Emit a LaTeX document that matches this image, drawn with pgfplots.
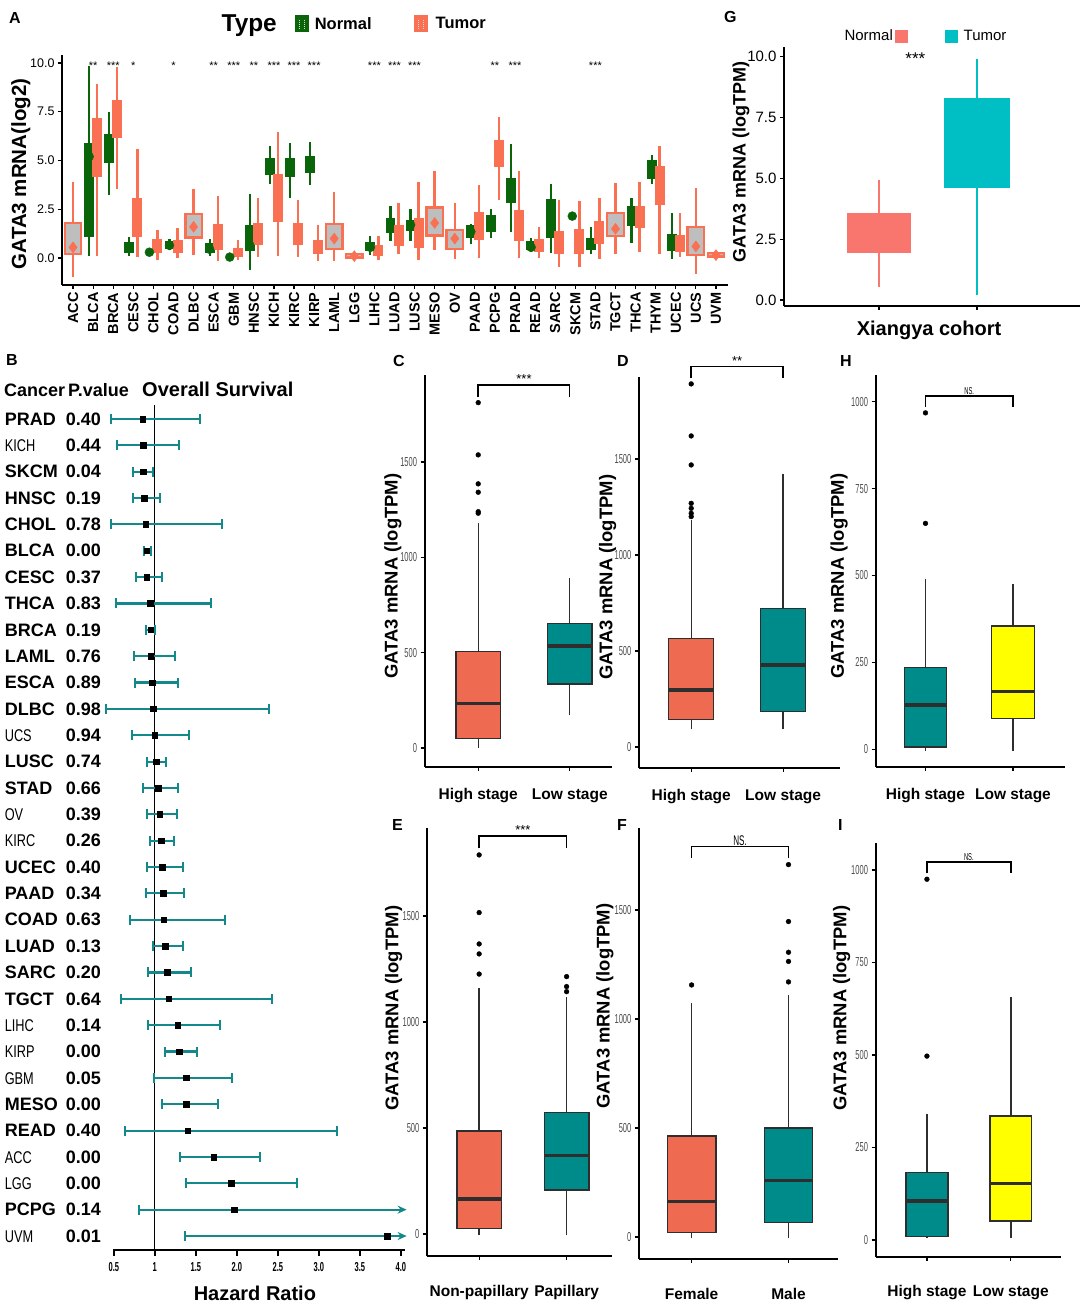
\documentclass[border=0pt]{standalone}
\usepackage{fontspec}
\setmainfont{Liberation Sans}
\newfontfamily\nar[FakeStretch=0.75]{Liberation Sans}
\newfontfamily\xnar[FakeStretch=0.58]{Liberation Sans}
\usepackage{pgfplots}
\usepackage{pgfplotstable}
\pgfplotsset{compat=1.18}
\usepgfplotslibrary{statistics}
\usetikzlibrary{arrows.meta}

\definecolor{ngreen}{HTML}{0A650A}
\definecolor{tsal}{HTML}{FA7052}
\definecolor{bgray}{HTML}{BEBEBE}
\definecolor{gnorm}{HTML}{F8766D}
\definecolor{gtum}{HTML}{00BFC4}
\definecolor{forest}{HTML}{13898B}
\definecolor{cor}{HTML}{EE6A50}
\definecolor{tea}{HTML}{008B8B}
\definecolor{yel}{HTML}{FFFF00}
\definecolor{edge}{HTML}{2E2E2E}

\newcommand{\fs}[1]{\fontsize{#1}{#1}\selectfont}
\newcommand{\rb}[2]{\makebox[61pt][l]{#1}\makebox[38pt][l]{#2}}
\newcommand{\rn}[2]{\makebox[61pt][l]{\mdseries\nar\fs{17}#1}\makebox[38pt][l]{#2}}

% one box from its five numbers (boxplot library, small values)
\newcommand{\bx}[7]{\addplot[#7, boxplot prepared={draw position=#1, lower whisker=#2,
  lower quartile=#3, median=#4, upper quartile=#5, upper whisker=#6}] coordinates {};}
% box drawn from plain plots: left, centre, right, lw, lq, med, uq, uw, fill
\newcommand{\gbx}[9]{%
  \addplot[edge, line width=1.4pt] coordinates {(#2,#4) (#2,#5)};
  \addplot[edge, line width=1.4pt] coordinates {(#2,#7) (#2,#8)};
  \addplot[fill=#9, draw=edge, line width=1.4pt] coordinates {(#1,#5) (#3,#5) (#3,#7) (#1,#7)} --cycle;
  \addplot[edge, line width=3.5pt] coordinates {(#1,#6) (#3,#6)};}
% significance bracket
\newcommand{\brk}[4]{\addplot[black, line width=1.5pt] coordinates {(1,#1) (1,#2) (2,#2) (2,#1)};
  \node[anchor=south, inner sep=1pt, font=#4] at (axis cs:1.5,#2) {#3};}
% confidence interval of one forest row: row, lower, upper
\newcommand{\ci}[3]{\addplot[forest, line width=2.2pt,
  arrows={Bar[width=10pt,line width=2pt]-Bar[width=10pt,line width=2pt]}] coordinates {(#2,#1) (#3,#1)};}

\pgfplotsset{
  gg/.style={scale only axis, clip=false, anchor=south west,
    axis x line*=bottom, axis y line*=left,
    axis line style={line width=2pt},
    tick align=outside, major tick length=4pt,
    tick style={black, line width=1.2pt},
    boxplot/draw direction=y,
    boxplot/whisker extend=0},
  sm/.style={gg, xtick={1,2}, xticklabel style={font=\bfseries\fs{15.5}},
    yticklabel style={font=\xnar\fs{13}, text=black!70},
    ylabel={GATA3 mRNA (logTPM)}, ylabel style={font=\bfseries\fs{18.4}, anchor=center}},
  outl/.style={only marks, mark=*, mark size=2.4pt, black},
  nbox/.style={draw=ngreen, fill=ngreen, line width=2.2pt, boxplot/box extend=0.38},
  tbox/.style={draw=tsal, fill=tsal, line width=2.4pt, boxplot/box extend=0.38},
  wbox/.style={draw=tsal, fill=bgray, line width=2.4pt, boxplot/box extend=0.82},
}

% hazard ratio of each forest row (1 = UVM at the bottom, 32 = PRAD at the top)
\pgfplotstableread{
row hr
32 0.85
31 0.86
30 0.86
29 0.87
28 0.89
27 0.90
26 0.90
25 0.94
24 0.95
23 0.95
22 0.97
21 0.98
20 1.00
19 1.02
18 1.04
17 1.06
16 1.08
15 1.09
14 1.10
13 1.11
12 1.13
11 1.15
10 1.17
9 1.28
8 1.30
7 1.38
6 1.38
5 1.40
4 1.72
3 1.93
2 1.97
1 3.83
}\fdata

\begin{document}
\begin{tikzpicture}[x=1pt,y=1pt]
\useasboundingbox (0,0) rectangle (1084,1306);

% panel letters and forest header
\begin{scope}[every node/.style={anchor=base west, inner sep=0pt, font=\bfseries\fs{16}}]
\node at (9,1282) {A};
\node at (724,1283) {G};
\node at (6,940) {B};
\node at (393,939) {C};
\node at (617,939) {D};
\node at (840,939) {H};
\node at (392,475) {E};
\node at (617,475) {F};
\node at (838,475) {I};
\node[font=\bfseries\fs{18}] at (4,909) {Cancer};
\node[font=\bfseries\fs{18}] at (68,909) {P.value};
\node[font=\bfseries\fs{20}] at (142,909) {Overall Survival};
\end{scope}

% ---------- A ----------
\begin{axis}[gg, at={(62pt,1021pt)}, width=666pt, height=230pt,
  xmin=-0.55, xmax=32.6, ymin=-1.38, ymax=10.41,
  axis line style={line width=2.5pt},
  xtick={0,...,32},
  xticklabels={ACC,BLCA,BRCA,CESC,CHOL,COAD,DLBC,ESCA,GBM,HNSC,KICH,KIRC,KIRP,LAML,LGG,LIHC,LUAD,LUSC,MESO,OV,PAAD,PCPG,PRAD,READ,SARC,SKCM,STAD,TGCT,THCA,THYM,UCEC,UCS,UVM},
  xticklabel style={rotate=90, anchor=east, font=\bfseries\fs{14.5}},
  ytick={0,2.5,5,7.5,10}, yticklabels={0.0,2.5,5.0,7.5,10.0},
  yticklabel style={font=\fs{12.5}},
  ylabel={GATA3 mRNA(log2)},
  ylabel style={font=\bfseries\fs{20.5}, at={(axis description cs:-0.0616,0.483)}, anchor=center},
  boxplot/every median/.style={draw=none},
  legend style={at={(0.438,1.135)}, anchor=center, draw=none, fill=none,
    legend columns=-1, font=\bfseries\fs{16.5}}]
\addlegendimage{empty legend}\addlegendentry{\fs{24.4}Type\hspace*{16pt}}
\addlegendimage{legend image code/.code={\draw[fill=ngreen,draw=ngreen,line width=1pt] (0pt,-8pt) rectangle (13pt,8pt);
  \draw[white!70!gray,densely dotted,line width=1pt] (4pt,-5pt)--(4pt,5pt) (9pt,-5pt)--(9pt,5pt);}}
\addlegendentry{\hspace*{4pt}Normal\hspace*{40pt}}
\addlegendimage{legend image code/.code={\draw[fill=tsal,draw=tsal,line width=1pt] (0pt,-8pt) rectangle (13pt,8pt);
  \draw[white!70!gray,densely dotted,line width=1pt] (4pt,-5pt)--(4pt,5pt) (9pt,-5pt)--(9pt,5pt);}}
\addlegendentry{\hspace*{6pt}Tumor}

\bx{0}{-0.95}{0.2}{0.55}{1.8}{3.9}{wbox}
\bx{0.8}{0.1}{1.15}{5.2}{5.85}{9.85}{nbox}
\bx{1.2}{0.1}{4.2}{5.9}{7.1}{8.9}{tbox}
\bx{1.8}{3.25}{4.95}{5.7}{6.3}{7.5}{nbox}
\bx{2.2}{3.55}{6.2}{7.2}{8.05}{9.8}{tbox}
\bx{2.8}{0.1}{0.3}{0.5}{0.75}{1.1}{nbox}
\bx{3.2}{0.05}{1.15}{2.1}{3.0}{5.6}{tbox}
\bx{4.2}{-0.1}{0.3}{0.6}{0.9}{1.45}{tbox}
\bx{4.8}{0.4}{0.5}{0.65}{0.8}{1.0}{nbox}
\bx{5.2}{0.0}{0.3}{0.55}{0.85}{1.55}{tbox}
\bx{6}{0.15}{1.05}{1.6}{2.25}{3.55}{wbox}
\bx{6.8}{0.1}{0.3}{0.45}{0.7}{1.0}{nbox}
\bx{7.2}{-0.15}{0.5}{1.1}{1.7}{3.2}{tbox}
\bx{8.2}{-0.1}{0.1}{0.3}{0.45}{0.95}{tbox}
\bx{8.8}{-0.6}{0.4}{0.65}{1.65}{3.3}{nbox}
\bx{9.2}{0.05}{0.75}{1.25}{1.75}{3.1}{tbox}
\bx{9.8}{3.8}{4.3}{4.7}{5.05}{5.75}{nbox}
\bx{10.2}{0.1}{1.9}{3.1}{4.25}{6.45}{tbox}
\bx{10.8}{3.1}{4.2}{4.6}{5.05}{5.9}{nbox}
\bx{11.2}{0.05}{0.75}{1.25}{1.75}{3.0}{tbox}
\bx{11.8}{3.75}{4.4}{4.8}{5.15}{5.95}{nbox}
\bx{12.2}{-0.15}{0.25}{0.55}{0.85}{1.7}{tbox}
\bx{13}{-0.15}{0.45}{1.0}{1.75}{3.4}{wbox}
\bx{14}{-0.02}{0.02}{0.1}{0.2}{0.25}{wbox}
\bx{14.8}{0.15}{0.4}{0.55}{0.75}{1.15}{nbox}
\bx{15.2}{-0.1}{0.15}{0.35}{0.6}{1.15}{tbox}
\bx{15.8}{0.85}{1.35}{1.7}{2.0}{2.65}{nbox}
\bx{16.2}{0.2}{0.7}{1.15}{1.65}{2.8}{tbox}
\bx{16.8}{0.9}{1.45}{1.7}{1.9}{2.5}{nbox}
\bx{17.2}{-0.1}{0.6}{1.2}{2.0}{3.9}{tbox}
\bx{18}{0.4}{1.15}{1.8}{2.6}{4.45}{wbox}
\bx{19}{-0.05}{0.45}{1.0}{1.45}{2.8}{wbox}
\bx{19.8}{0.7}{1.1}{1.35}{1.65}{1.75}{nbox}
\bx{20.2}{0.0}{1.0}{1.6}{2.3}{3.75}{tbox}
\bx{20.8}{1.05}{1.4}{1.8}{2.15}{2.5}{nbox}
\bx{21.2}{3.0}{4.75}{5.4}{6.0}{7.25}{tbox}
\bx{21.8}{1.35}{2.9}{3.4}{4.05}{5.85}{nbox}
\bx{22.2}{0.0}{0.95}{1.6}{2.4}{4.45}{tbox}
\bx{22.8}{0.3}{0.45}{0.55}{0.8}{1.05}{nbox}
\bx{23.2}{0.0}{0.35}{0.6}{0.92}{1.6}{tbox}
\bx{23.8}{0.25}{1.1}{2.0}{2.95}{3.8}{nbox}
\bx{24.2}{-0.45}{0.25}{0.7}{1.35}{3.0}{tbox}
\bx{25.2}{-0.45}{0.25}{0.9}{1.45}{2.95}{tbox}
\bx{25.8}{0.2}{0.45}{0.7}{0.98}{1.6}{nbox}
\bx{26.2}{-0.05}{0.78}{1.2}{1.85}{3.1}{tbox}
\bx{27}{0.2}{1.12}{1.5}{2.3}{3.85}{wbox}
\bx{27.8}{0.77}{1.7}{2.2}{2.6}{3.1}{nbox}
\bx{28.2}{0.3}{1.6}{2.1}{2.6}{3.9}{tbox}
\bx{28.8}{3.8}{4.1}{4.6}{4.95}{5.3}{nbox}
\bx{29.2}{0.2}{2.8}{3.7}{4.66}{5.75}{tbox}
\bx{29.8}{-0.05}{0.4}{0.75}{1.18}{2.3}{nbox}
\bx{30.2}{0.05}{0.35}{0.7}{1.1}{2.3}{tbox}
\bx{31}{-0.8}{0.15}{0.6}{1.58}{3.58}{wbox}
\bx{32}{0.05}{0.08}{0.15}{0.25}{0.3}{wbox}

\addplot[only marks, mark=*, mark size=4.5pt, ngreen] coordinates {
 (0.8,5.2) (2.8,0.5) (3.8,0.3) (4.8,0.65) (6.8,0.45) (7.8,0.05) (8.8,0.65)
 (14.8,0.55) (16.8,1.7) (19.8,1.35) (22.8,0.55) (24.85,2.15)};
\addplot[only marks, mark=diamond*, mark size=5.5pt, tsal] coordinates {
 (0,0.55) (6,1.6) (13,1.0) (14,0.1) (18,1.8) (19,1.0) (27,1.5) (31,0.6) (32,0.15) (8.2,0.3)};
\addplot[draw=none, mark=none, nodes near coords, point meta=explicit symbolic,
  nodes near coords style={anchor=center, font=\fs{11}, inner sep=0pt}]
  table[meta=s] {
x y s
1 9.85 **
2 9.85 ***
3 9.85 *
5 9.85 *
7 9.85 **
8 9.85 ***
9 9.85 **
10 9.85 ***
11 9.85 ***
12 9.85 ***
15 9.85 ***
16 9.85 ***
17 9.85 ***
21 9.85 **
22 9.85 ***
26 9.85 ***
};
\end{axis}

% ---------- G ----------
\begin{axis}[gg, at={(784pt,1000pt)}, width=296pt, height=259pt,
  xmin=0.03, xmax=3.05, ymin=-0.25, ymax=10.4,
  xtick={1,2}, xticklabels={},
  ytick={0,2.5,5,7.5,10}, yticklabels={0.0,2.5,5.0,7.5,10.0},
  yticklabel style={font=\fs{15}},
  xlabel={Xiangya cohort},
  xlabel style={font=\bfseries\fs{20}, at={(axis description cs:0.49,-0.093)}, anchor=center},
  ylabel={GATA3 mRNA (logTPM)},
  ylabel style={font=\bfseries\fs{18}, at={(axis description cs:-0.145,0.556)}, anchor=center},
  boxplot/every median/.style={draw=none},
  legend style={at={(0.478,1.0425)}, anchor=center, draw=none, fill=none,
    legend columns=-1, font=\fs{15}}]
\addlegendimage{empty legend}\addlegendentry{Normal}
\addlegendimage{legend image code/.code={\fill[gnorm] (0pt,-6pt) rectangle (12pt,6pt);}}
\addlegendentry{\hspace*{34pt}}
\addlegendimage{legend image code/.code={\fill[gtum] (0pt,-6pt) rectangle (12pt,6pt);}}
\addlegendentry{\hspace*{4pt}Tumor}
\bx{1}{0.55}{1.95}{2.7}{3.55}{4.95}{draw=gnorm, fill=gnorm, line width=1.6pt, boxplot/box extend=0.63}
\bx{2}{0.2}{4.65}{6.4}{8.25}{9.9}{draw=gtum, fill=gtum, line width=1.6pt, boxplot/box extend=0.65}
\node[font=\fs{17}] at (axis cs:1.37,9.9) {***};
\end{axis}

% ---------- B ----------
\begin{axis}[scale only axis, clip=false, anchor=south west, at={(113pt,56pt)},
  width=292pt, height=845pt, xmin=0.49, xmax=4.05, ymin=0.47, ymax=32.53,
  axis x line*=bottom, axis y line*=left,
  y axis line style={draw=none}, x axis line style={line width=2pt},
  ytick={1,...,32}, ytick style={draw=none},
  yticklabels={\rn{UVM}{0.01},\rb{PCPG}{0.14},\rn{LGG}{0.00},\rn{ACC}{0.00},\rb{READ}{0.40},\rb{MESO}{0.00},\rn{GBM}{0.05},\rn{KIRP}{0.00},\rn{LIHC}{0.14},\rb{TGCT}{0.64},\rb{SARC}{0.20},\rb{LUAD}{0.13},\rb{COAD}{0.63},\rb{PAAD}{0.34},\rb{UCEC}{0.40},\rn{KIRC}{0.26},\rn{OV}{0.39},\rb{STAD}{0.66},\rb{LUSC}{0.74},\rn{UCS}{0.94},\rb{DLBC}{0.98},\rb{ESCA}{0.89},\rb{LAML}{0.76},\rb{BRCA}{0.19},\rb{THCA}{0.83},\rb{CESC}{0.37},\rb{BLCA}{0.00},\rb{CHOL}{0.78},\rb{HNSC}{0.19},\rb{SKCM}{0.04},\rn{KICH}{0.44},\rb{PRAD}{0.40}},
  yticklabel style={anchor=east, inner sep=0pt, xshift=-3pt, font=\bfseries\fs{18}},
  xtick={0.5,1,1.5,2,2.5,3,3.5,4}, xticklabels={0.5,1,1.5,2.0,2.5,3.0,3.5,4.0},
  xticklabel style={font=\xnar\bfseries\fs{13}, yshift=-3pt},
  tick align=outside, major tick length=6pt, xtick style={black, line width=1.5pt},
  xlabel={Hazard Ratio},
  xlabel style={font=\bfseries\fs{20}, at={(axis description cs:0.486,-0.051)}, anchor=center}]
\addplot[black, line width=1.2pt] coordinates {(1,0.47) (1,32.53)};
\ci{32}{0.45}{1.56}
\ci{31}{0.53}{1.31}
\ci{30}{0.72}{0.99}
\ci{29}{0.72}{1.07}
\ci{28}{0.45}{1.83}
\ci{27}{0.85}{0.97}
\ci{26}{0.76}{1.10}
\ci{25}{0.52}{1.70}
\ci{24}{0.88}{1.02}
\ci{23}{0.73}{1.26}
\ci{22}{0.75}{1.30}
\ci{21}{0.39}{2.41}
\ci{20}{0.71}{1.43}
\ci{19}{0.89}{1.15}
\ci{18}{0.84}{1.30}
\ci{17}{0.89}{1.28}
\ci{16}{0.93}{1.24}
\ci{15}{0.89}{1.35}
\ci{14}{0.88}{1.37}
\ci{13}{0.69}{1.87}
\ci{12}{0.96}{1.36}
\ci{11}{0.91}{1.45}
\ci{10}{0.58}{2.44}
\ci{9}{0.90}{1.81}
\ci{8}{1.11}{1.53}
\ci{7}{0.98}{1.95}
\ci{6}{1.08}{1.78}
\ci{5}{0.63}{3.23}
\ci{4}{1.30}{2.29}
\ci{3}{1.37}{2.74}
% intervals that run past the right edge
\addplot[forest, line width=2.2pt, arrows={Bar[width=10pt,line width=2pt]-Stealth[length=9pt,width=8pt]}]
  coordinates {(0.79,2) (4.07,2)};
\addplot[forest, line width=2.2pt, arrows={Bar[width=10pt,line width=2pt]-Stealth[length=9pt,width=8pt]}]
  coordinates {(1.36,1) (4.07,1)};
\addplot[only marks, mark=square*, mark size=2.8pt, black] table[x=hr, y=row] {\fdata};
\end{axis}

% ---------- C ----------
\begin{axis}[sm, at={(424.6pt,539pt)}, width=187.5pt, height=392pt,
  xmin=0.414, xmax=2.463, ymin=-100, ymax=1956,
  xticklabels={High stage, Low stage}, xticklabel style={yshift=-14pt},
  ytick={0,500,1000,1500}, yticklabels={0,500,1000,1500},
  ylabel style={at={(axis description cs:-0.169,0.487)}}]
\gbx{0.755}{1}{1.245}{0}{51}{234}{507}{1178}{cor}
\gbx{1.755}{2}{2.245}{173}{336}{535}{654}{890}{tea}
\addplot[outl] coordinates {(1,1811) (1,1537) (1,1385) (1,1341) (1,1239) (1,1231)};
\brk{1841}{1904}{***}{\fs{13}}
\end{axis}

% ---------- D ----------
\begin{axis}[sm, at={(638.9pt,538pt)}, width=200.9pt, height=391pt,
  xmin=0.431, xmax=2.617, ymin=-109, ymax=1927,
  xticklabels={High stage, Low stage}, xticklabel style={yshift=-14pt},
  ytick={0,500,1000,1500}, yticklabels={0,500,1000,1500},
  ylabel style={at={(axis description cs:-0.156,0.488)}}]
\gbx{0.755}{1}{1.245}{92}{144}{297}{566}{1182}{cor}
\gbx{1.755}{2}{2.245}{92}{184}{427}{722}{1422}{tea}
\addplot[outl] coordinates {(1,1891) (1,1620) (1,1469) (1,1269) (1,1243) (1,1217) (1,1200)};
\brk{1920}{1981}{**}{\fs{13}}
\end{axis}

% ---------- H ----------
\begin{axis}[sm, at={(875.5pt,539pt)}, width=189.8pt, height=392pt,
  xmin=0.429, xmax=2.598, ymin=-51, ymax=1077,
  xticklabels={High stage, Low stage}, xticklabel style={yshift=-14pt},
  ytick={0,250,500,750,1000}, yticklabels={0,250,500,750,1000},
  ylabel style={at={(axis description cs:-0.192,0.487)}}]
\gbx{0.757}{1}{1.243}{-5}{6}{127}{236}{489}{tea}
\gbx{1.757}{2}{2.243}{-4}{89}{166}{355}{476}{yel}
\addplot[outl] coordinates {(1,650) (1,968)};
\brk{986}{1016}{NS.}{\xnar\fs{10}}
\end{axis}

% ---------- E ----------
\begin{axis}[sm, at={(426.9pt,50pt)}, width=185.2pt, height=428pt,
  xmin=0.403, xmax=2.52, ymin=-104, ymax=1915,
  xticklabels={Non-papillary, Papillary}, xticklabel style={yshift=-22pt},
  ytick={0,500,1000,1500}, yticklabels={0,500,1000,1500},
  ylabel style={at={(axis description cs:-0.18,0.579)}}]
\gbx{0.745}{1}{1.255}{-5}{27}{164}{486}{1159}{cor}
\gbx{1.745}{2}{2.255}{-5}{208}{369}{574}{1119}{tea}
\addplot[outl] coordinates {(1,1788) (1,1516) (1,1368) (1,1321) (1,1226) (2,1214) (2,1167) (2,1143)};
\brk{1819}{1877}{***}{\fs{13}}
\end{axis}

% ---------- F ----------
\begin{axis}[sm, at={(638.9pt,47pt)}, width=198.7pt, height=431pt,
  xmin=0.456, xmax=2.507, ymin=-101, ymax=1876,
  xticklabels={Female, Male}, xticklabel style={yshift=-22pt},
  ytick={0,500,1000,1500}, yticklabels={0,500,1000,1500},
  ylabel style={at={(axis description cs:-0.171,0.587)}}]
\gbx{0.75}{1}{1.25}{-6}{20}{163}{464}{1075}{cor}
\gbx{1.75}{2}{2.25}{-6}{66}{259}{499}{1110}{tea}
\addplot[outl] coordinates {(1,1156) (2,1708) (2,1447) (2,1306) (2,1264) (2,1170)};
\brk{1738}{1791}{NS.}{\xnar\fs{14}}
\end{axis}

% ---------- I ----------
\begin{axis}[sm, at={(875.5pt,49pt)}, width=185.3pt, height=414pt,
  xmin=0.387, xmax=2.596, ymin=-46, ymax=1073,
  xticklabels={High stage, Low stage}, xticklabel style={yshift=-21pt},
  ytick={0,250,500,750,1000}, yticklabels={0,250,500,750,1000},
  ylabel style={at={(axis description cs:-0.183,0.601)}}]
\gbx{0.75}{1}{1.25}{5}{9}{106}{183}{341}{tea}
\gbx{1.75}{2}{2.25}{5}{51}{153}{335}{656}{yel}
\addplot[outl] coordinates {(1,497) (1,975)};
\brk{991}{1022}{NS.}{\xnar\fs{10}}
\end{axis}
\end{tikzpicture}
\end{document}
